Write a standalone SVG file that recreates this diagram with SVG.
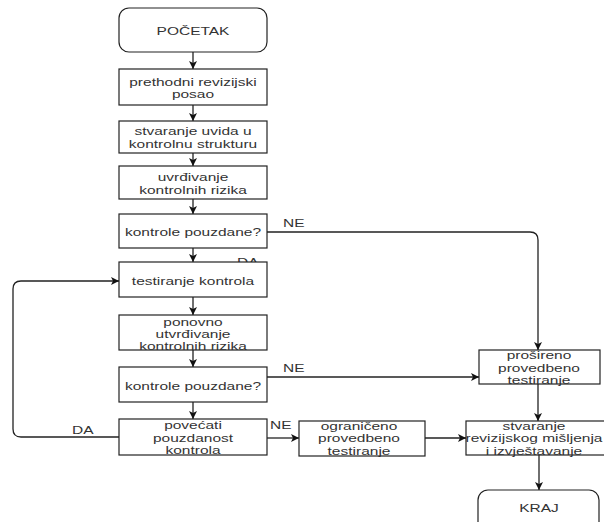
<svg xmlns="http://www.w3.org/2000/svg" width="604" height="522" viewBox="0 0 604 522">
<defs>
<marker id="arr" viewBox="0 0 10 10" refX="10" refY="5" markerWidth="8" markerHeight="8" markerUnits="userSpaceOnUse" orient="auto">
<path d="M0,0 L10,5 L0,10 L2.5,5 Z" fill="#111"/>
</marker>
<style>
.box{fill:#fff;stroke:#222;stroke-width:1.2}
.t{font-family:"Liberation Sans",Arial,sans-serif;font-size:11px;fill:#333;text-anchor:middle}
.l{font-family:"Liberation Sans",Arial,sans-serif;font-size:11px;fill:#333;text-anchor:start}
.c{fill:none;stroke:#222;stroke-width:1.3;marker-end:url(#arr)}
</style>
</defs>
<rect width="604" height="522" fill="#fff"/>
<g id="labels-behind">
<text class="l" transform="translate(237 266) scale(1.41 1)">DA</text>
</g>
<g id="connectors">
<path class="c" d="M193,52 V69"/>
<path class="c" d="M193,105 V121"/>
<path class="c" d="M193,153 V166"/>
<path class="c" d="M193,199 V214"/>
<path class="c" d="M193,248 V262"/>
<path class="c" d="M193,297 V315"/>
<path class="c" d="M193,350 V367"/>
<path class="c" d="M193,402 V419"/>
<path class="c" d="M267,232 H530 Q538,232 538,240 V350"/>
<path class="c" d="M267,377 H479"/>
<path class="c" d="M119,437 H21 Q13,437 13,429 V289 Q13,281 21,281 H119"/>
<path class="c" d="M267,438 H299"/>
<path class="c" d="M425,438 H466"/>
<path class="c" d="M538,384 V421"/>
<path class="c" d="M539,455 V490"/>
</g>
<g id="edge-labels">
<text class="l" transform="translate(283 227) scale(1.41 1)">NE</text>
<text class="l" transform="translate(283 372) scale(1.41 1)">NE</text>
<text class="l" transform="translate(270 429) scale(1.41 1)">NE</text>
<text class="l" transform="translate(72 434) scale(1.41 1)">DA</text>
</g>
<g id="start">
<rect class="box" x="119" y="8" width="148" height="44" rx="10"/>
<text class="t" transform="translate(193 35) scale(1.41 1)">POČETAK</text>
</g>
<g id="prethodni">
<rect class="box" x="119" y="69" width="148" height="36"/>
<text class="t" transform="translate(193 85.5) scale(1.41 1)">prethodni revizijski</text>
<text class="t" transform="translate(193 98) scale(1.41 1)">posao</text>
</g>
<g id="uvid">
<rect class="box" x="119" y="121" width="148" height="32"/>
<text class="t" transform="translate(193 135) scale(1.41 1)">stvaranje uvida u</text>
<text class="t" transform="translate(193 147.5) scale(1.41 1)">kontrolnu strukturu</text>
</g>
<g id="uvrdivanje">
<rect class="box" x="119" y="166" width="148" height="33"/>
<text class="t" transform="translate(193 181) scale(1.41 1)">uvrđivanje</text>
<text class="t" transform="translate(193 193.5) scale(1.41 1)">kontrolnih rizika</text>
</g>
<g id="odluka1">
<rect class="box" x="119" y="214" width="148" height="34"/>
<text class="t" transform="translate(193 236) scale(1.41 1)">kontrole pouzdane?</text>
</g>
<g id="testiranje">
<rect class="box" x="119" y="262" width="148" height="35"/>
<text class="t" transform="translate(193 284.5) scale(1.41 1)">testiranje kontrola</text>
</g>
<g id="ponovno">
<rect class="box" x="119" y="315" width="148" height="35"/>
<text class="t" transform="translate(193 325.5) scale(1.41 1)">ponovno</text>
<text class="t" transform="translate(193 337.5) scale(1.41 1)">utvrđivanje</text>
<text class="t" transform="translate(193 349.5) scale(1.41 1)">kontrolnih rizika</text>
</g>
<g id="odluka2">
<rect class="box" x="119" y="367" width="148" height="35"/>
<text class="t" transform="translate(193 390) scale(1.41 1)">kontrole pouzdane?</text>
</g>
<g id="povecati">
<rect class="box" x="119" y="419" width="148" height="36"/>
<text class="t" transform="translate(193 429) scale(1.41 1)">povećati</text>
<text class="t" transform="translate(193 441.5) scale(1.41 1)">pouzdanost</text>
<text class="t" transform="translate(193 454) scale(1.41 1)">kontrola</text>
</g>
<g id="ograniceno">
<rect class="box" x="299" y="421" width="126" height="35"/>
<text class="t" transform="translate(359 430) scale(1.41 1)">ograničeno</text>
<text class="t" transform="translate(359 442.3) scale(1.41 1)">provedbeno</text>
<text class="t" transform="translate(359 454.6) scale(1.41 1)">testiranje</text>
</g>
<g id="prosireno">
<rect class="box" x="479" y="350" width="121" height="34"/>
<text class="t" transform="translate(539 359) scale(1.41 1)">prošireno</text>
<text class="t" transform="translate(539 371.5) scale(1.41 1)">provedbeno</text>
<text class="t" transform="translate(539 384) scale(1.41 1)">testiranje</text>
</g>
<g id="misljenje">
<rect class="box" x="466" y="421" width="142" height="34"/>
<text class="t" transform="translate(534 430) scale(1.41 1)">stvaranje</text>
<text class="t" transform="translate(534 442.3) scale(1.41 1)">revizijskog mišljenja</text>
<text class="t" transform="translate(534 454.6) scale(1.41 1)">i izvještavanje</text>
</g>
<g id="kraj">
<rect class="box" x="478" y="490" width="121" height="45" rx="10"/>
<text class="t" transform="translate(539 512) scale(1.41 1)">KRAJ</text>
</g>
</svg>
